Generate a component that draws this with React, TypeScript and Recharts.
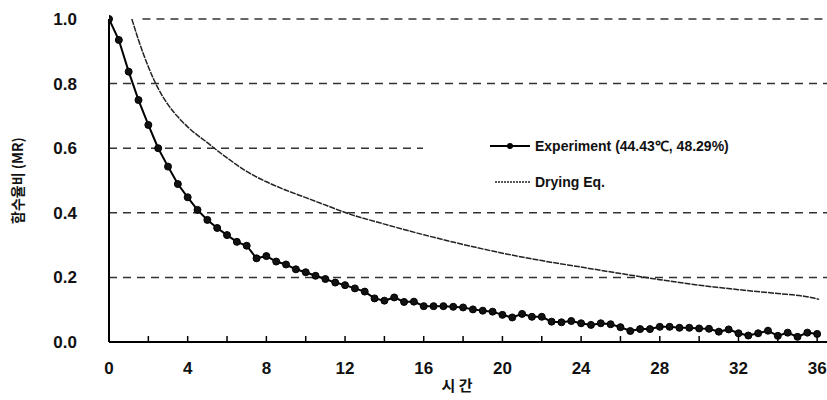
import React from 'react';
import { LineChart, Line, XAxis, YAxis, ReferenceLine, Legend } from 'recharts';

// experiment, sampled every 30 min
const expHours = [
  0, 0.5, 1, 1.5, 2, 2.5, 3, 3.5, 4, 4.5, 5, 5.5, 6, 6.5, 7, 7.5, 8, 8.5, 9, 9.5,
  10, 10.5, 11, 11.5, 12, 12.5, 13, 13.5, 14, 14.5, 15, 15.5, 16, 16.5, 17, 17.5,
  18, 18.5, 19, 19.5, 20, 20.5, 21, 21.5, 22, 22.5, 23, 23.5, 24, 24.5, 25, 25.5,
  26, 26.5, 27, 27.5, 28, 28.5, 29, 29.5, 30, 30.5, 31, 31.5, 32, 32.5, 33, 33.5,
  34, 34.5, 35, 35.5, 36,
];
const expMR = [
  1.0, 0.935, 0.837, 0.749, 0.672, 0.6, 0.543, 0.489, 0.448, 0.409, 0.378, 0.353,
  0.331, 0.31, 0.298, 0.259, 0.266, 0.249, 0.24, 0.225, 0.216, 0.205, 0.195, 0.184,
  0.176, 0.166, 0.156, 0.135, 0.128, 0.138, 0.124, 0.125, 0.111, 0.111, 0.111, 0.109,
  0.107, 0.101, 0.097, 0.094, 0.084, 0.076, 0.087, 0.078, 0.078, 0.063, 0.061, 0.065,
  0.058, 0.053, 0.058, 0.055, 0.046, 0.034, 0.04, 0.04, 0.047, 0.047, 0.044, 0.044,
  0.042, 0.041, 0.032, 0.039, 0.027, 0.02, 0.027, 0.035, 0.019, 0.029, 0.016, 0.029,
  0.025,
];

// fitted drying equation
const dryHours = [
  1.16, 1.5, 2, 2.5, 3, 3.5, 4, 5, 6, 7, 8, 9, 10, 11, 12, 14, 16, 18, 20, 22, 24,
  26, 28, 30, 32, 34, 35.4, 36.1,
];
const dryMR = [
  1.0, 0.935, 0.852, 0.785, 0.735, 0.697, 0.666, 0.617, 0.57, 0.528, 0.496, 0.47,
  0.447, 0.424, 0.401, 0.365, 0.332, 0.302, 0.275, 0.252, 0.232, 0.212, 0.193, 0.176,
  0.162, 0.15, 0.141, 0.132,
];

const xTicks = [0, 2, 4, 6, 8, 10, 12, 14, 16, 18, 20, 22, 24, 26, 28, 30, 32, 34, 36];
const yTicks = [0, 0.2, 0.4, 0.6, 0.8, 1.0];
const gridValues = [0.2, 0.4, 0.6, 0.8];

const expName = 'Experiment (44.43℃, 48.29%)';
const dryName = 'Drying Eq.';

const expData = expHours.map((t, i) => ({ t, mr: expMR[i] }));
const dryData = dryHours.map((t, i) => ({ t, mr: dryMR[i] }));

const numFont = '"Liberation Sans", Arial, sans-serif';
const korFont = '"Noto Sans CJK KR", "Liberation Sans", sans-serif';

const XTick = (props: any) => {
  const { x, y, payload } = props;
  const v = payload.value;
  return (
    <g>
      <line x1={x} y1={y - 20} x2={x} y2={y - 26} stroke="#000" strokeWidth={1.5} />
      {v % 4 === 0 && (
        <text x={x} y={y} dy="0.71em" textAnchor="middle" fontFamily={numFont}
          fontSize={17} fontWeight="bold" fill="#111">
          {v}
        </text>
      )}
    </g>
  );
};

const LegendBox = () => (
  <svg width={404} height={72} style={{ display: 'block' }}>
    <line x1={67} y1={18} x2={107} y2={18} stroke="#000" strokeWidth={2} />
    <circle cx={87} cy={18} r={3} fill="#000" />
    <text x={112} y={18} dominantBaseline="central" fontFamily={numFont}
      fontSize={14} fontWeight="bold" fill="#111">{expName}</text>
    <line x1={72} y1={54} x2={107} y2={54} stroke="#222" strokeWidth={1.3} strokeDasharray="2 1" />
    <text x={112} y={54} dominantBaseline="central" fontFamily={numFont}
      fontSize={14} fontWeight="bold" fill="#111">{dryName}</text>
  </svg>
);

export default function App() {
  return (
    <div style={{ position: 'absolute', left: 0, top: 0, background: '#fff' }}>
      <LineChart width={827} height={400} margin={{ top: 19, right: 0, bottom: 0, left: 0 }}>
        <XAxis
          dataKey="t"
          type="number"
          domain={[0, 36.5]}
          ticks={xTicks}
          interval={0}
          allowDataOverflow
          height={58}
          tickSize={0}
          tickMargin={20}
          tickLine={false}
          axisLine={{ stroke: '#000', strokeWidth: 2 }}
          tick={<XTick />}
          label={{
            value: '시 간',
            position: 'insideBottom',
            offset: 9,
            dx: -11,
            style: { fontFamily: korFont, fontSize: 15, fontWeight: 'bold', fill: '#111' },
          }}
        />
        <YAxis
          type="number"
          domain={[0, 1]}
          ticks={yTicks}
          width={109}
          tickSize={0}
          tickMargin={32}
          tickLine={false}
          axisLine={{ stroke: '#000', strokeWidth: 2 }}
          tickFormatter={(v: number) => v.toFixed(1)}
          tick={{ fontFamily: numFont, fontSize: 17, fontWeight: 'bold', fill: '#111' }}
          label={{
            value: '함수율비 (MR)',
            angle: -90,
            position: 'center',
            dx: -36,
            style: { fontFamily: korFont, fontSize: 14, fontWeight: 'bold', fill: '#111' },
          }}
        />
        {gridValues.map((v) => (
          <ReferenceLine key={v} y={v} stroke="#333" strokeWidth={1.5} strokeDasharray="8 6" />
        ))}
        <ReferenceLine
          segment={[{ x: 1.7, y: 1 }, { x: 36.5, y: 1 }]}
          stroke="#333"
          strokeWidth={1.5}
          strokeDasharray="8 6"
        />
        <Line
          data={dryData}
          dataKey="mr"
          name={dryName}
          type="monotone"
          stroke="#222"
          strokeWidth={1.5}
          strokeDasharray="6 1"
          dot={false}
          isAnimationActive={false}
        />
        <Line
          data={expData}
          dataKey="mr"
          name={expName}
          type="linear"
          stroke="#000"
          strokeWidth={2}
          dot={{ r: 3.5, fill: '#111', stroke: '#000', strokeWidth: 1 }}
          isAnimationActive={false}
        />
        <Legend
          layout="vertical"
          align="center"
          verticalAlign="middle"
          content={<LegendBox />}
          wrapperStyle={{ left: 423, top: 128, width: 404, height: 72, background: '#fff' }}
        />
      </LineChart>
    </div>
  );
}
